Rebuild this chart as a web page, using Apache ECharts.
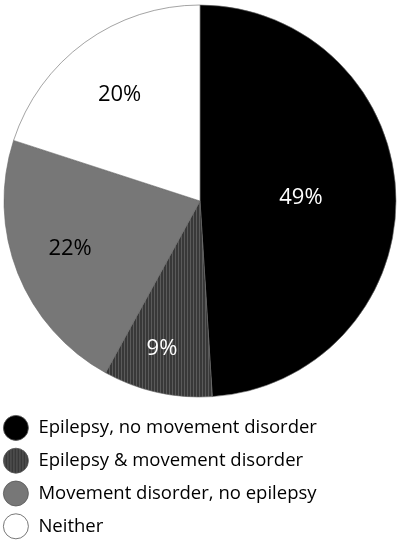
<!DOCTYPE html>
<html>
<head>
<meta charset="utf-8">
<script src="https://cdn.jsdelivr.net/npm/echarts@6/dist/echarts.min.js"></script>
<style>
  html, body { margin: 0; padding: 0; background: #fff; }
  #chart { width: 400px; height: 544px; }
</style>
</head>
<body>
<div id="chart"></div>
<script>
// data
const categories = [
  "Epilepsy, no movement disorder",
  "Epilepsy & movement disorder",
  "Movement disorder, no epilepsy",
  "Neither"
];
const shares = [49, 9, 22, 20];

// vertical hatch for the second slice
function hatch() {
  const c = document.createElement("canvas");
  c.width = 3; c.height = 4;
  const ctx = c.getContext("2d");
  ctx.fillStyle = "#383838";
  ctx.fillRect(0, 0, 3, 4);
  ctx.fillStyle = "#5a5a5a";
  ctx.fillRect(1, 0, 1, 4);
  return c;
}

const fills = ["#000000", { image: hatch(), repeat: "repeat" }, "#777777", "#ffffff"];
const labelColors = ["#ffffff", "#ffffff", "#000000", "#000000"];
const labelOffsets = [[0, 0], [-16, 49], [-36, 11], [-21, -25]];

const chart = echarts.init(document.getElementById("chart"));
chart.setOption({
  animation: false,
  legend: {
    orient: "vertical",
    left: 3,
    top: 415,
    height: 129,
    padding: 0,
    icon: "circle",
    itemWidth: 25,
    itemHeight: 25,
    itemGap: 7,
    selectedMode: false,
    itemStyle: { borderColor: "#555", borderWidth: 0.8 },
    textStyle: { fontFamily: "Open Sans", fontSize: 18.5, color: "#000", padding: [0, 0, 0, 5] },
    data: categories
  },
  series: [{
    type: "pie",
    center: [200, 201],
    radius: 196,
    startAngle: 90,
    clockwise: true,
    silent: true,
    itemStyle: { borderColor: "#666", borderWidth: 0.6 },
    label: {
      position: "inside",
      formatter: "{c}%",
      fontFamily: "Open Sans",
      fontSize: 22
    },
    labelLine: { show: false },
    data: categories.map((name, i) => ({
      name: name,
      value: shares[i],
      itemStyle: { color: fills[i] },
      label: { color: labelColors[i], offset: labelOffsets[i] }
    }))
  }]
});
</script>
</body>
</html>
